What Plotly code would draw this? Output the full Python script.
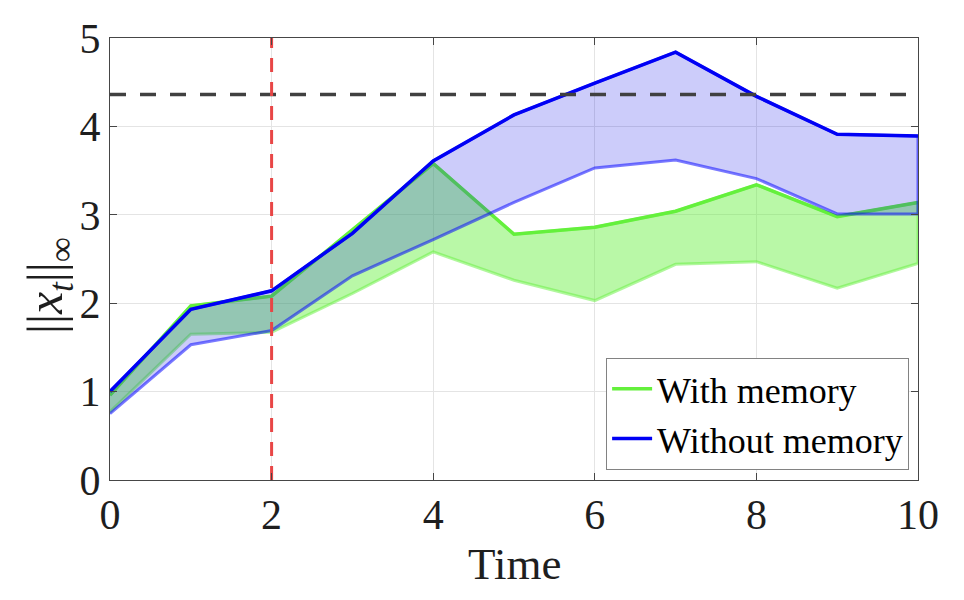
import plotly.graph_objects as go

time = [0, 1, 2, 3, 4, 5, 6, 7, 8, 9, 10]
with_mem_upper = [0.96, 1.97, 2.08, 2.83, 3.58, 2.78, 2.86, 3.04, 3.34, 2.98, 3.14]
with_mem_lower = [0.77, 1.65, 1.67, 2.11, 2.58, 2.26, 2.03, 2.44, 2.47, 2.17, 2.45]
without_mem_upper = [1.00, 1.93, 2.14, 2.79, 3.61, 4.13, 4.49, 4.84, 4.34, 3.91, 3.89]
without_mem_lower = [0.75, 1.53, 1.69, 2.31, 2.72, 3.14, 3.53, 3.62, 3.41, 3.01, 3.01]
threshold = 4.36
switch_time = 2

FONT = "Liberation Serif, Times New Roman, serif"
fig = go.Figure()

# green band
fig.add_trace(go.Scatter(
    x=time + time[::-1], y=with_mem_upper + with_mem_lower[::-1],
    fill="toself", fillcolor="rgba(100,240,60,0.45)",
    line=dict(color="rgba(100,240,60,0.5)", width=3),
    mode="lines", showlegend=False, hoverinfo="skip"))
fig.add_trace(go.Scatter(
    x=time, y=with_mem_upper, mode="lines", name="With memory",
    line=dict(color="rgb(100,240,60)", width=3.5)))
# blue band
fig.add_trace(go.Scatter(
    x=time + time[::-1], y=without_mem_upper + without_mem_lower[::-1],
    fill="toself", fillcolor="rgba(0,0,230,0.2)",
    line=dict(color="rgba(0,0,255,0.52)", width=3),
    mode="lines", showlegend=False, hoverinfo="skip"))
fig.add_trace(go.Scatter(
    x=time, y=without_mem_upper, mode="lines", name="Without memory",
    line=dict(color="rgb(0,0,245)", width=3.5)))

# reference lines
fig.add_trace(go.Scatter(
    x=[time[0], time[-1]], y=[threshold, threshold], mode="lines",
    line=dict(color="rgb(64,64,64)", width=3.5, dash="16px,14px"),
    showlegend=False, hoverinfo="skip"))
fig.add_trace(go.Scatter(
    x=[switch_time, switch_time], y=[0, 5], mode="lines",
    line=dict(color="rgb(232,70,70)", width=3, dash="14px,10px"),
    showlegend=False, hoverinfo="skip"))

axis_common = dict(
    showline=True, linecolor="rgb(70,70,70)", linewidth=1.2, mirror="ticks",
    ticks="inside", ticklen=7, tickcolor="rgb(70,70,70)",
    showgrid=True, gridcolor="rgb(228,228,228)", gridwidth=1,
    zeroline=False, tickfont=dict(family=FONT, size=42, color="rgb(30,30,30)"),
    automargin=False,
)

fig.update_layout(
    width=964, height=600,
    margin=dict(l=110, r=46, t=38, b=120),
    plot_bgcolor="white", paper_bgcolor="white",
    xaxis=dict(range=[0, 10], tickvals=[0, 2, 4, 6, 8, 10], ticklabelstandoff=-3,
               **axis_common),
    yaxis=dict(range=[0, 5], tickvals=[0, 1, 2, 3, 4, 5], ticklabelstandoff=0,
               **axis_common),
    legend=dict(x=0.989, y=0.023, xanchor="right", yanchor="bottom",
                bgcolor="white", bordercolor="rgb(130,130,130)", borderwidth=1,
                font=dict(family=FONT, size=36, color="black"),
                tracegroupgap=0, itemwidth=40),
    showlegend=True,
    annotations=[
        dict(text="Time", xref="paper", yref="paper", x=0.5, y=-0.19,
             xanchor="center", yanchor="middle", showarrow=False,
             font=dict(family=FONT, size=45, color="rgb(30,30,30)")),
        dict(text="||<i>x</i><sub><i>t</i></sub>||<sub>∞</sub>", xref="paper", yref="paper",
             x=-0.076, y=0.44, xanchor="center", yanchor="middle", showarrow=False,
             textangle=-90, font=dict(family=FONT, size=50, color="rgb(30,30,30)")),
    ],
)

fig.write_html("out.html")
